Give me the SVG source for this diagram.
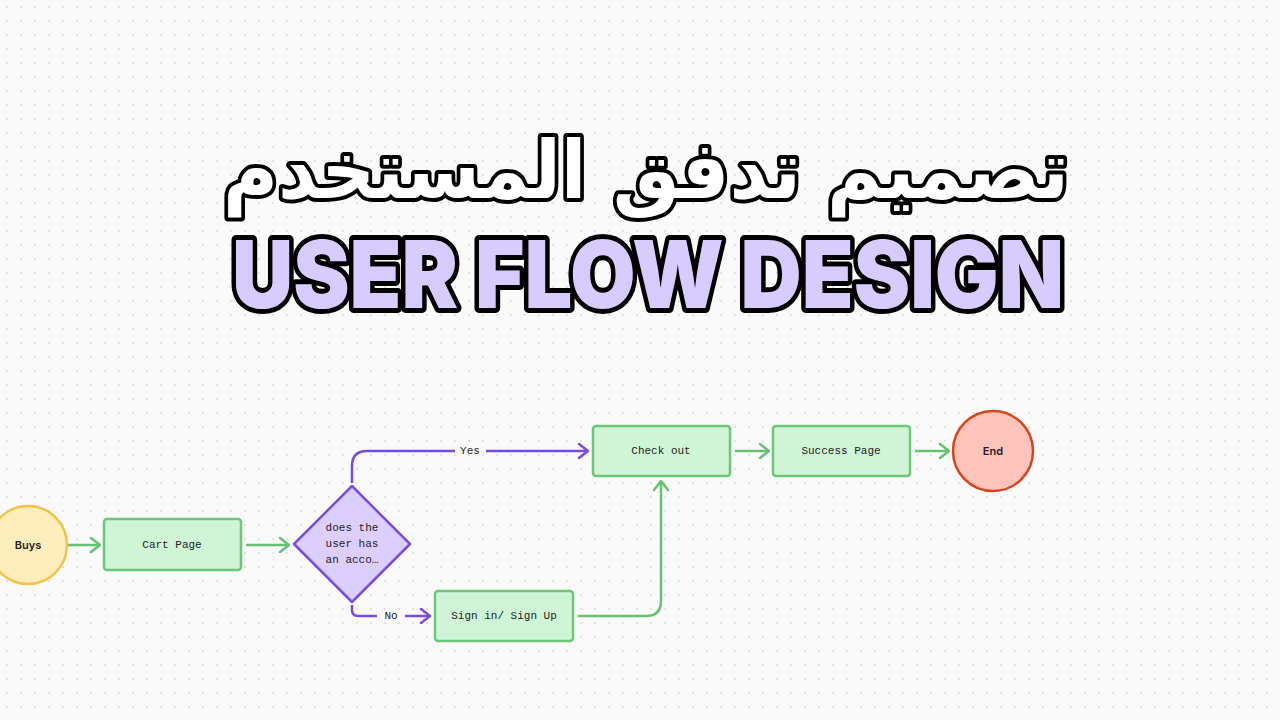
<svg xmlns="http://www.w3.org/2000/svg" width="1280" height="720" viewBox="0 0 1280 720">
<defs>
<pattern id="dots" width="14" height="14" patternUnits="userSpaceOnUse"><circle cx="7" cy="7" r="0.9" fill="#d8d8d8"/></pattern>
<marker id="ag" viewBox="0 0 12 16" refX="11" refY="8" markerWidth="12" markerHeight="16" markerUnits="userSpaceOnUse" orient="auto"><path d="M2 1 L11 8 L2 15" fill="none" stroke="#66c172" stroke-width="2.5" stroke-linecap="round" stroke-linejoin="round"/></marker>
<marker id="ap" viewBox="0 0 12 16" refX="11" refY="8" markerWidth="12" markerHeight="16" markerUnits="userSpaceOnUse" orient="auto"><path d="M2 1 L11 8 L2 15" fill="none" stroke="#7a4be0" stroke-width="2.5" stroke-linecap="round" stroke-linejoin="round"/></marker>
<style>
.box{fill:#d0f5d6;stroke:#6cc878;stroke-width:2.5}
.lbl{font-family:"Liberation Mono",monospace;font-size:11px;fill:#222;text-anchor:middle;dominant-baseline:central}
.cl{font-family:"Inter","Liberation Sans",sans-serif;font-size:11px;font-weight:600;fill:#222;text-anchor:middle;dominant-baseline:central}
.g{fill:none;stroke:#66c172;stroke-width:2.5;marker-end:url(#ag)}
.p{fill:none;stroke:#7a4be0;stroke-width:2.5}
.pl{font-family:"Liberation Mono",monospace;font-size:11px;fill:#222;text-anchor:middle;dominant-baseline:central}
</style>
</defs>
<rect width="1280" height="720" fill="#fafafa"/>
<rect width="1280" height="720" fill="url(#dots)"/>
<g id="title">
<text x="646" y="198" font-family="'DejaVu Sans',sans-serif" font-weight="bold" font-size="80" text-anchor="middle" direction="rtl" textLength="846" lengthAdjust="spacingAndGlyphs" fill="#fff" stroke="#000" stroke-width="8" stroke-linejoin="round" paint-order="stroke">تصميم تدفق المستخدم</text>
<text x="648" y="308" font-family="Inter,'Liberation Sans',sans-serif" font-weight="900" font-size="94" text-anchor="middle" textLength="832" lengthAdjust="spacingAndGlyphs" fill="#d8ccff" stroke="#000" stroke-width="10" stroke-linejoin="round" paint-order="stroke">USER FLOW DESIGN</text>
</g>
<g id="connectors">
<path class="g" d="M61 545 H100"/>
<path class="g" d="M246 545 H289"/>
<path class="p" d="M352 483 V466 Q352 451 367 451 H455"/>
<path class="p" d="M486 451 H588" marker-end="url(#ap)"/>
<text class="pl" x="470" y="451">Yes</text>
<path class="p" d="M352 605 V610 Q352 616 358 616 H377"/>
<path class="p" d="M405 616 H430" marker-end="url(#ap)"/>
<text class="pl" x="391" y="616">No</text>
<path class="g" d="M578 616 H646 Q661 616 661 601 V481"/>
<path class="g" d="M735 451 H769"/>
<path class="g" d="M915 451 H949"/>
</g>
<g id="buys"><circle cx="28" cy="545" r="39" fill="#ffeebb" stroke="#f0c44a" stroke-width="2.5"/><text class="cl" x="28" y="545">Buys</text></g>
<g id="cart"><rect class="box" x="104" y="519" width="137" height="51" rx="3"/><text class="lbl" x="172" y="545">Cart Page</text></g>
<g id="decision"><path d="M352 486 L410 544 L352 602 L294 544 Z" fill="#dccfff" stroke="#7b4de0" stroke-width="2.5" stroke-linejoin="round"/>
<text class="lbl" x="352" y="528">does the</text><text class="lbl" x="352" y="544">user has</text><text class="lbl" x="352" y="560">an acco…</text></g>
<g id="signin"><rect class="box" x="435" y="591" width="138" height="50" rx="3"/><text class="lbl" x="504" y="616">Sign in/ Sign Up</text></g>
<g id="checkout"><rect class="box" x="593" y="426" width="137" height="50" rx="3"/><text class="lbl" x="661" y="451">Check out</text></g>
<g id="success"><rect class="box" x="773" y="426" width="137" height="50" rx="3"/><text class="lbl" x="841" y="451">Success Page</text></g>
<g id="end"><circle cx="993" cy="451" r="40" fill="#fdc4bc" stroke="#d9441e" stroke-width="2.5"/><text class="cl" x="993" y="451">End</text></g>
</svg>
